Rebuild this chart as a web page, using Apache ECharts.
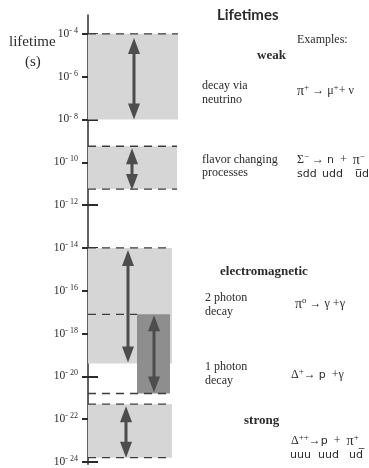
<!DOCTYPE html>
<html>
<head>
<meta charset="utf-8">
<script src="https://cdn.jsdelivr.net/npm/echarts@6/dist/echarts.min.js"></script>
<style>
html, body { margin: 0; padding: 0; background: #fff; }
#main { width: 369px; height: 468px; }
</style>
</head>
<body>
<div id="main"></div>
<script>
// lifetimes in powers of ten (exponent of seconds)
const tickExponents = [-4, -6, -8, -10, -12, -14, -16, -18, -20, -22, -24];
const bandNames = ['decay via neutrino', 'flavor changing', '2 photon decay', '1 photon decay', 'strong'];
const bandTop = [-4, -9.25, -14, -17.1, -21.3];
const bandBottom = [-8, -11.25, -19.4, -20.8, -23.8];
const arrowTop = [-4.2, -9.35, -14.1, -17.15, -21.4];
const arrowBottom = [-8.0, -11.3, -19.35, -20.75, -23.8];
const dashLevels = [-4, -9.25, -11.25, -14, -17.1, -20.8, -21.3, -23.8];

// layout (horizontal placement in px from the axis)
const bandSpan = [[0, 90], [0, 89], [0, 84], [49, 82], [0, 84]];
const bandDark = [false, false, false, true, false];
const arrowX = [46, 44, 40, 66, 38];
const dashSpan = [[0, 90], [0, 89], [0, 89], [0, 84], [0, 49], [0, 81], [0, 84], [0, 84]];

const light = '#d6d6d6';
const dark = '#8e8e8e';
const ink = '#2b2b2b';
const arrowInk = '#4d4d4d';
const serif = '"Liberation Serif", "DejaVu Serif", serif';
const sans = '"DejaVu Sans", sans-serif';

const chart = echarts.init(document.getElementById('main'), null, { renderer: 'canvas' });

const bandData = bandNames.map((n, i) => [bandSpan[i][0], bandSpan[i][1], bandTop[i], bandBottom[i], bandDark[i] ? 1 : 0]);
const arrowData = arrowTop.map((t, i) => [arrowX[i], t, arrowBottom[i]]);
const dashData = dashLevels.map((v, i) => [dashSpan[i][0], dashSpan[i][1], v]);

function txt(x, y, text, font, rich) {
    return {
        type: 'text', x: x, y: y,
        style: { text: text, font: font, fill: ink, verticalAlign: 'middle', rich: rich }
    };
}
const supRich = {
    g: { fontFamily: serif, fontSize: 14, fill: ink },
    t: { fontFamily: serif, fontSize: 12, fill: ink },
    n: { fontFamily: sans, fontSize: 11, fill: ink },
    s: { fontFamily: serif, fontSize: 9, fill: ink, padding: [0, 0, 7, 0] }
};

const yCommon = { type: 'value', min: -24.1, max: -3.12, position: 'left', offset: 0, splitLine: { show: false } };

chart.setOption({
    animation: false,
    backgroundColor: '#fff',
    grid: { left: 88, right: 181, top: 15, bottom: 0 },
    xAxis: { type: 'value', min: 0, max: 100, show: false },
    yAxis: [
        Object.assign({}, yCommon, {
            axisLine: { show: true, lineStyle: { color: ink, width: 1.5 } },
            axisTick: { show: true, customValues: tickExponents, length: 6, lineStyle: { color: ink, width: 2 } },
            axisLabel: {
                customValues: tickExponents, margin: 10,
                formatter: v => '{b|10}{s|- ' + (-v) + '}',
                rich: {
                    b: { fontFamily: serif, fontSize: 11.5, color: ink },
                    s: { fontFamily: serif, fontSize: 8, color: ink, padding: [0, 0, 6, 0] }
                }
            }
        }),
        Object.assign({}, yCommon, {
            axisLine: { show: false },
            axisTick: { show: true, inside: true, customValues: tickExponents, length: 10, lineStyle: { color: ink, width: 2 } },
            axisLabel: { show: false }
        })
    ],
    series: [
        {
            type: 'custom', name: 'bands', data: bandData, clip: false, z: 1,
            renderItem: (params, api) => {
                const p0 = api.coord([api.value(0), api.value(2)]);
                const p1 = api.coord([api.value(1), api.value(3)]);
                return {
                    type: 'rect',
                    shape: { x: p0[0], y: p0[1], width: p1[0] - p0[0], height: p1[1] - p0[1] },
                    style: { fill: api.value(4) ? dark : light }
                };
            }
        },
        {
            type: 'custom', name: 'edges', data: dashData, clip: false, z: 2,
            renderItem: (params, api) => {
                const p0 = api.coord([api.value(0), api.value(2)]);
                const p1 = api.coord([api.value(1), api.value(2)]);
                return {
                    type: 'line',
                    shape: { x1: p0[0], y1: p0[1], x2: p1[0], y2: p1[1] },
                    style: { stroke: '#3c3c3c', lineWidth: 1.3, lineDash: [8, 6] }
                };
            }
        },
        {
            type: 'custom', name: 'arrows', data: arrowData, clip: false, z: 3,
            renderItem: (params, api) => {
                const a = api.coord([api.value(0), api.value(1)]);
                const b = api.coord([api.value(0), api.value(2)]);
                const hl = 16, hw = 6;
                return {
                    type: 'group',
                    children: [
                        { type: 'line', shape: { x1: a[0], y1: a[1] + hl - 2, x2: b[0], y2: b[1] - hl + 2 }, style: { stroke: arrowInk, lineWidth: 3 } },
                        { type: 'polygon', shape: { points: [[a[0], a[1]], [a[0] - hw, a[1] + hl], [a[0] + hw, a[1] + hl]] }, style: { fill: arrowInk } },
                        { type: 'polygon', shape: { points: [[b[0], b[1]], [b[0] - hw, b[1] - hl], [b[0] + hw, b[1] - hl]] }, style: { fill: arrowInk } }
                    ]
                };
            }
        }
    ],
    graphic: [
        txt(9, 42, 'lifetime', '15px ' + serif),
        txt(25, 62, '(s)', '15px ' + serif),
        txt(217, 15, 'Lifetimes', 'bold 15px Lato, sans-serif'),
        txt(297, 40, 'Examples:', '12px ' + serif),
        txt(257, 56, 'weak', 'bold 13px ' + serif),
        txt(202, 86, 'decay via', '12px ' + serif),
        txt(202, 100, 'neutrino', '12px ' + serif),
        txt(297, 91, '{g|π}{s|+}{t| → }{t|μ}{s|+}{t|+ ν}', '12px ' + serif, supRich),
        txt(202, 160, 'flavor changing', '12px ' + serif),
        txt(202, 173, 'processes', '12px ' + serif),
        txt(297, 160, '{t|Σ}{s|−}{t| → }{n|n}{t|  +  }{g|π}{s|−}', '12px ' + serif, supRich),
        txt(297, 174, 'sdd', '11px ' + sans),
        txt(322, 174, 'udd', '11px ' + sans),
        txt(355, 174, 'u\u0305d', '11px ' + sans),
        txt(220, 272, 'electromagnetic', 'bold 13px ' + serif),
        txt(205, 298, '2 photon', '12px ' + serif),
        txt(205, 312, 'decay', '12px ' + serif),
        txt(295, 304, '{g|π}{s|o}{t| → γ +γ}', '12px ' + serif, supRich),
        txt(205, 367, '1 photon', '12px ' + serif),
        txt(205, 381, 'decay', '12px ' + serif),
        txt(291, 375, '{t|Δ}{s|+}{t|→ }{n|p}{t|  +γ}', '12px ' + serif, supRich),
        txt(244, 421, 'strong', 'bold 13px ' + serif),
        txt(291, 441, '{t|Δ}{s|++}{t|→}{n|p}{t|  +  }{g|π}{s|+}', '12px ' + serif, supRich),
        txt(290, 455, 'uuu', '11px ' + sans),
        txt(318, 455, 'uud', '11px ' + sans),
        txt(349, 455, 'ud\u0305', '11px ' + sans)
    ]
});
</script>
</body>
</html>
